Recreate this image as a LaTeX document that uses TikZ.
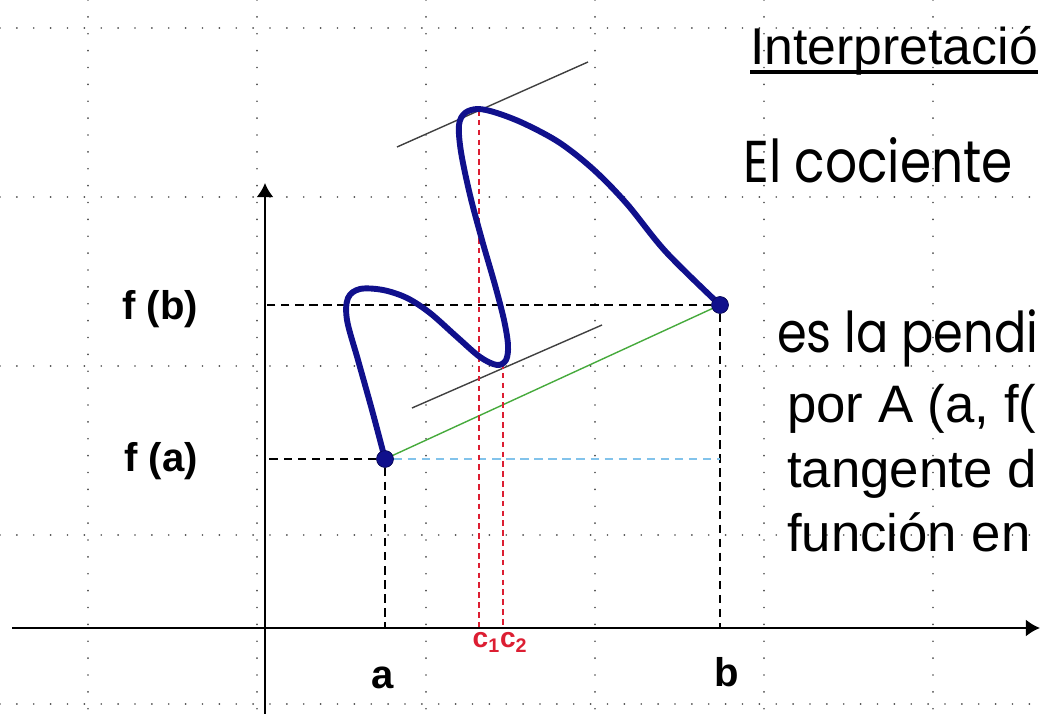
\documentclass[tikz,border=0pt]{standalone}
\usepackage{fontspec}
\setmainfont{Liberation Sans}
\newfontfamily\comicfont[FakeStretch=0.85]{Poppins}
\usetikzlibrary{arrows.meta}
\definecolor{curveblue}{RGB}{16,16,140}
\definecolor{meanred}{RGB}{220,30,50}
\definecolor{chordgreen}{RGB}{70,170,60}
\definecolor{levelblue}{RGB}{130,195,235}
\tikzset{
	gridline/.style={black!70, line width=1.3pt, line cap=round, dash pattern=on 0pt off 12pt},
	axis/.style={black, line width=1.4pt, -{Latex[length=10pt,width=12pt]}},
	guide/.style={black, line width=1pt, dash pattern=on 6pt off 4pt},
	cline/.style={meanred, line width=0.9pt, dash pattern=on 4pt off 3pt},
	tangent/.style={black!75, line width=1pt},
	curve/.style={curveblue, line width=4.2pt, line cap=round, line join=round},
	pt/.style={circle, fill=curveblue, draw=curveblue!60!black, inner sep=0pt, minimum size=0.42cm},
	lbl/.style={font=\fontsize{28.5}{34}\selectfont\bfseries, inner sep=0pt},
	body/.style={font=\fontsize{37.5}{44}\selectfont, inner sep=0pt, anchor=base west},
	comic/.style={font=\comicfont\fontsize{40}{48}\selectfont, inner sep=0pt, anchor=base west},
}

\begin{document}
\begin{tikzpicture}[x=0.025cm, y=-0.025cm]
			\useasboundingbox (0,0) rectangle (1041,714);
			\clip (0,0) rectangle (1041,714);
			% dotted grid
			\foreach \gy in {28,197,366,535,704}
				\draw[gridline] (0,\gy) -- (1041,\gy);
			\foreach \gx in {88,257,426,595,764,933}
				\draw[gridline] (\gx,0) -- (\gx,714);

			% axes
			\coordinate (O) at (265,628);
			\coordinate (xstart) at (12,628);
			\coordinate (xend) at (1040,628);
			\coordinate (ybot) at (265,714);
			\coordinate (ytop) at (265,183);
			\draw[axis] (xstart) -- (xend);
			\draw[axis] (ybot) -- (ytop);

			% end points
			\node[pt] (A) at (385,459) {};
			\node[pt] (B) at (720,305) {};

			\draw[guide] (A) -- (A -| O);
			\draw[guide] (B) -- (B -| O);
			\draw[guide] (A) -- (A |- O);
			\draw[guide] (B) -- (B |- O);
			\draw[levelblue, line width=1pt, dash pattern=on 6pt off 4pt] (A) -- (A -| B);
			\draw[chordgreen, line width=1pt] (A) -- (B);

			% tangents and mean value points
			\coordinate (tanLa) at (397,147);
			\coordinate (tanLb) at (588,62);
			\coordinate (tanRa) at (412,408);
			\coordinate (tanRb) at (602,325);
			\draw[tangent] (tanLa) -- (tanLb);
			\draw[tangent] (tanRa) -- (tanRb);
			\coordinate (c1) at (479,110);
			\coordinate (c2) at (503,363);
			\draw[cline] (c1) -- (c1 |- O);
			\draw[cline] (c2) -- (c2 |- O);

			% function
			\draw[curve] plot[smooth, tension=0.55] coordinates {(A.center) (372,410) (358,360) (347,320) (348,298) (360,289) (383,290) (407,298) (430,313) (457,337) (480,357) (497,365) (506,360) (508,345) (504,320) (495,285) (482,240) (470,195) (461,152) (459,125) (465,113) (478,109) (497,113) (525,124) (560,143) (594,170) (627,204) (666,252) (B.center)};
			\node[pt] at (A) {};
			\node[pt] at (B) {};

			% labels
			\node[lbl, anchor=base west] (fb) at (122,320) {f (b)};
			\node[lbl, anchor=base west] (fa) at (124,472) {f (a)};
			\node[lbl, anchor=base] (la) at (383,688) {a};
			\node[lbl, anchor=base] (lb) at (727,686) {b};
			\node[font=\fontsize{20}{24}\selectfont\bfseries, text=meanred, inner sep=0pt, anchor=base] (lc) at (500,648) {c\textsubscript{1}c\textsubscript{2}};

			% text
			\node[body, font=\fontsize{36.8}{44}\selectfont] (ttl) at (750,65) {Interpretació};
			\draw[line width=2.2pt] ([yshift=-5pt]ttl.base west) -- ([yshift=-5pt]ttl.base east);
			\node[comic, font=\comicfont\fontsize{42}{50}\selectfont] (coc) at (743,183) {El cociente};
			\node[comic] (pend) at (777,353) {es la pendi};
			\node[body] (por) at (787,423) {por A (a, f(};
			\node[body] (tang) at (787,488) {tangente d};
			\node[body] (func) at (787,552) {función en};
		\end{tikzpicture}
\end{document}
